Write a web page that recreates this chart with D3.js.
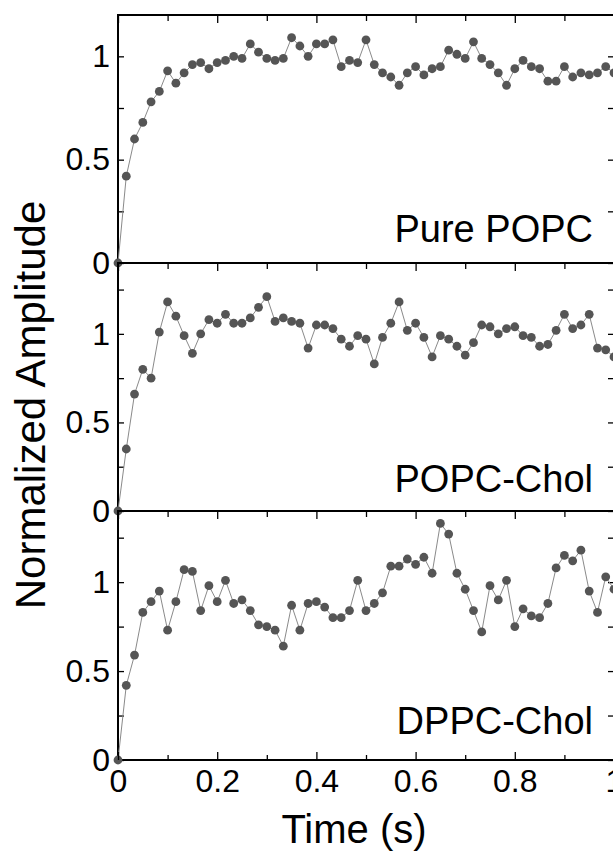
<!DOCTYPE html>
<html>
<head>
<meta charset="utf-8">
<script src="https://cdn.jsdelivr.net/npm/d3@7"></script>
<style>
  body { margin: 0; background: #fff; }
  svg { display: block; font-family: "Liberation Sans", Arial, sans-serif; }
</style>
</head>
<body>
<div id="chart"></div>
<script>
// time points (s)
var time = [0, 0.0167, 0.0333, 0.05, 0.0667, 0.0833, 0.1, 0.1167, 0.1333, 0.15,
            0.1667, 0.1833, 0.2, 0.2167, 0.2333, 0.25, 0.2667, 0.2833, 0.3, 0.3167,
            0.3333, 0.35, 0.3667, 0.3833, 0.4, 0.4167, 0.4333, 0.45, 0.4667, 0.4833,
            0.5, 0.5167, 0.5333, 0.55, 0.5667, 0.5833, 0.6, 0.6167, 0.6333, 0.65,
            0.6667, 0.6833, 0.7, 0.7167, 0.7333, 0.75, 0.7667, 0.7833, 0.8, 0.8167,
            0.8333, 0.85, 0.8667, 0.8833, 0.9, 0.9167, 0.9333, 0.95, 0.9667, 0.9833, 1];

// normalized amplitudes
var purePOPC = [0, 0.42, 0.60, 0.68, 0.78, 0.83, 0.93, 0.87, 0.92, 0.96,
                0.97, 0.94, 0.97, 0.98, 1.00, 0.99, 1.06, 1.02, 0.99, 0.98,
                0.99, 1.09, 1.05, 1.00, 1.06, 1.06, 1.08, 0.95, 0.98, 0.97,
                1.08, 0.96, 0.92, 0.90, 0.86, 0.92, 0.95, 0.91, 0.94, 0.95,
                1.03, 1.01, 0.99, 1.07, 0.99, 0.96, 0.92, 0.86, 0.94, 0.98,
                0.95, 0.94, 0.88, 0.88, 0.95, 0.90, 0.92, 0.91, 0.92, 0.95, 0.92];

var popcChol = [0, 0.35, 0.66, 0.80, 0.75, 1.01, 1.18, 1.10, 0.99, 0.89,
                1.00, 1.08, 1.06, 1.11, 1.06, 1.06, 1.09, 1.15, 1.21, 1.07,
                1.09, 1.07, 1.06, 0.92, 1.05, 1.05, 1.03, 0.97, 0.93, 0.99,
                0.97, 0.83, 0.98, 1.06, 1.18, 1.02, 1.06, 0.98, 0.87, 0.99,
                0.97, 0.93, 0.88, 0.95, 1.05, 1.04, 1.00, 1.03, 1.04, 0.99,
                0.98, 0.93, 0.94, 1.02, 1.11, 1.03, 1.05, 1.11, 0.92, 0.91, 0.87];

var dppcChol = [0, 0.42, 0.59, 0.83, 0.89, 0.95, 0.73, 0.89, 1.07, 1.06,
                0.84, 0.98, 0.89, 1.01, 0.88, 0.90, 0.84, 0.76, 0.75, 0.73,
                0.64, 0.87, 0.73, 0.88, 0.89, 0.86, 0.80, 0.80, 0.84, 1.01,
                0.84, 0.88, 0.94, 1.09, 1.09, 1.13, 1.10, 1.14, 1.05, 1.33,
                1.27, 1.05, 0.96, 0.84, 0.72, 0.98, 0.90, 1.01, 0.75, 0.85,
                0.81, 0.80, 0.88, 1.08, 1.15, 1.12, 1.18, 0.95, 0.83, 1.03, 0.96];

var panelNames = ["Pure POPC", "POPC-Chol", "DPPC-Chol"];
var panelMax = [1.2, 1.4, 1.4];
var yTickValues = [0, 0.25, 0.5, 0.75, 1, 1.25];
var xTickValues = [0, 0.1, 0.2, 0.3, 0.4, 0.5, 0.6, 0.7, 0.8, 0.9, 1];

var w = 613;
var h = 852;
var left = 118, right = 614;
var panelEdges = [15, 263, 511, 760];
var labelBase = [242, 492, 734];

var series = [purePOPC, popcChol, dppcChol];

var svg = d3.select("#chart")
            .append("svg")
            .attr("width", w)
            .attr("height", h);

var x = d3.scaleLinear()
          .domain([0, 1])
          .range([left, right]);

var fmt = d3.format("~g");
var isMajorX = function(d) { return Math.round(d * 10) % 2 === 0; };

series.forEach(function(values, p) {
    var top = panelEdges[p], bottom = panelEdges[p + 1];

    var y = d3.scaleLinear()
              .domain([0, panelMax[p]])
              .range([bottom, top]);

    //only the ticks inside this panel
    var ticks = yTickValues.filter(function(d) { return d <= panelMax[p]; });

    var g = svg.append("g");

    //Top ticks (inward)
    var topAxis = g.append("g")
        .attr("transform", "translate(0," + top + ")")
        .call(d3.axisTop(x).tickValues(xTickValues).tickSizeInner(-8).tickSizeOuter(0).tickFormat(""));
    topAxis.select(".domain").remove();
    topAxis.selectAll("line").attr("stroke", "#000").attr("stroke-width", 1.3)
        .attr("y2", function(d) { return isMajorX(d) ? 8 : 6; });

    //Left axis
    var leftAxis = g.append("g")
        .attr("transform", "translate(" + left + ",0)")
        .call(d3.axisLeft(y).tickValues(ticks).tickSizeInner(-6).tickSizeOuter(0).tickPadding(8)
            .tickFormat(function(d) { return (d * 2) % 1 === 0 ? fmt(d) : ""; }));
    leftAxis.select(".domain").remove();
    leftAxis.selectAll("line").attr("stroke", "#000").attr("stroke-width", 1.3);
    leftAxis.selectAll("text")
        .attr("font-size", 32)
        .attr("fill", "#000")
        .attr("font-family", "'Liberation Sans', Arial, sans-serif");

    //Right ticks
    var rightAxis = g.append("g")
        .attr("transform", "translate(" + right + ",0)")
        .call(d3.axisRight(y).tickValues(ticks).tickSizeInner(-6).tickSizeOuter(0).tickFormat(""));
    rightAxis.select(".domain").remove();
    rightAxis.selectAll("line").attr("stroke", "#000").attr("stroke-width", 1.3);

    //Frame
    g.append("rect")
        .attr("x", left)
        .attr("y", top)
        .attr("width", right - left)
        .attr("height", bottom - top)
        .attr("fill", "none")
        .attr("stroke", "#000")
        .attr("stroke-width", 2);

    //Line and dots
    var pts = time.map(function(t, i) { return [t, values[i]]; });

    g.append("path")
        .datum(pts)
        .attr("fill", "none")
        .attr("stroke", "#8a8a8a")
        .attr("stroke-width", 1)
        .attr("d", d3.line().x(function(d) { return x(d[0]); }).y(function(d) { return y(d[1]); }));

    g.selectAll("circle")
        .data(pts)
        .join("circle")
        .attr("cx", function(d) { return x(d[0]); })
        .attr("cy", function(d) { return y(d[1]); })
        .attr("r", 4.4)
        .attr("fill", "#555555");

    //Panel label
    g.append("text")
        .attr("x", 593)
        .attr("y", labelBase[p])
        .attr("text-anchor", "end")
        .attr("font-size", 38)
        .attr("fill", "#000")
        .text(panelNames[p]);
});

//Bottom axis
var bottomAxis = svg.append("g")
    .attr("transform", "translate(0," + panelEdges[3] + ")")
    .call(d3.axisBottom(x).tickValues(xTickValues).tickSizeInner(-8).tickSizeOuter(0).tickPadding(9)
        .tickFormat(function(d) { return isMajorX(d) ? fmt(d) : ""; }));
bottomAxis.select(".domain").remove();
bottomAxis.selectAll("line").attr("stroke", "#000").attr("stroke-width", 1.3)
    .attr("y2", function(d) { return isMajorX(d) ? -8 : -5; });
bottomAxis.selectAll("text")
    .attr("font-size", 32)
    .attr("fill", "#000")
    .attr("font-family", "'Liberation Sans', Arial, sans-serif");

//Axis titles
svg.append("text")
    .attr("x", 354)
    .attr("y", 843)
    .attr("text-anchor", "middle")
    .attr("font-size", 40)
    .text("Time (s)");

svg.append("text")
    .attr("transform", "translate(45,405) rotate(-90)")
    .attr("text-anchor", "middle")
    .attr("font-size", 42)
    .text("Normalized Amplitude");
</script>
</body>
</html>
